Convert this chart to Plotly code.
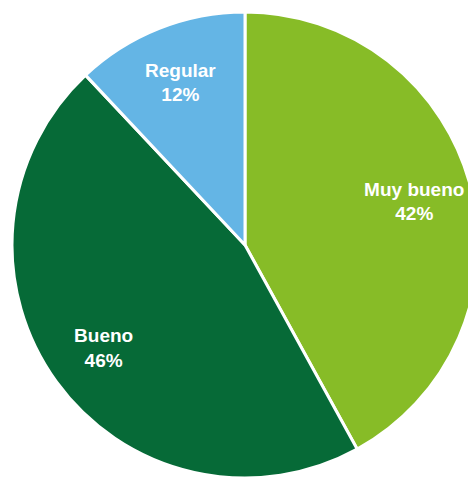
import plotly.graph_objects as go

labels = ["Muy bueno", "Bueno", "Regular"]
values = [42, 46, 12]
colors = ["#87BC27", "#066A37", "#64B5E5"]

# pie domain (page body adds an 8px offset)
dom = dict(x=[4/476, 470/476], y=[9/479, 475/479])

fig = go.Figure()
fig.add_trace(go.Pie(
    labels=labels,
    values=values,
    sort=False,
    direction="clockwise",
    rotation=0,
    marker=dict(colors=colors, line=dict(color="white", width=3)),
    textinfo="none",
    domain=dom,
    showlegend=False,
    hoverinfo="label+percent",
))
# transparent ring carrying the labels so they sit toward the rim
fig.add_trace(go.Pie(
    labels=labels,
    values=values,
    sort=False,
    direction="clockwise",
    rotation=0,
    hole=0.5,
    marker=dict(colors=["rgba(0,0,0,0)"] * len(values), line=dict(width=0)),
    texttemplate="%{label}<br>%{percent:.0%}",
    textposition="inside",
    insidetextorientation="horizontal",
    textfont=dict(family="Liberation Sans, Arial, sans-serif", size=19, color="white", weight="bold"),
    domain=dom,
    showlegend=False,
    hoverinfo="skip",
))

fig.update_layout(
    width=476, height=479,
    margin=dict(l=0, r=0, t=0, b=0),
    paper_bgcolor="white",
    plot_bgcolor="white",
)

fig.write_html("out.html")
